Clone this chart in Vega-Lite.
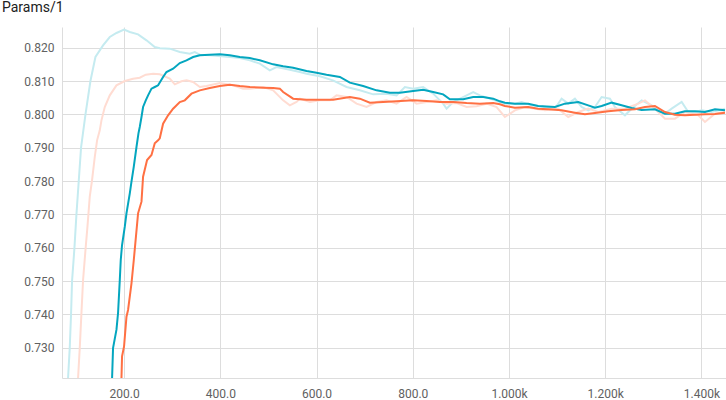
{
  "$schema": "https://vega.github.io/schema/vega-lite/v6.json",
  "autosize": {"type": "none"},
  "width": 664,
  "height": 351,
  "padding": {"left": 62, "top": 27, "right": 0, "bottom": 22},
  "background": "white",
  "title": {"text": "Params/1", "anchor": "start", "frame": "group", "dx": -60, "offset": 12, "fontSize": 14, "font": "Roboto", "fontWeight": "normal", "color": "#212121"},
  "config": {
    "view": {"stroke": null},
    "axis": {"labelFont": "Roboto", "labelFontSize": 12, "labelColor": "#616161", "gridColor": "#dddddd", "domainColor": "#dddddd", "ticks": false, "title": null}
  },
  "data": {"values": [
    {"run":"A raw","step":83.6,"value":0.7209},{"run":"A raw","step":87.1,"value":0.730},{"run":"A raw","step":89.8,"value":0.740},{"run":"A raw","step":91.9,"value":0.750},{"run":"A raw","step":96.9,"value":0.760},{"run":"A raw","step":101.0,"value":0.770},{"run":"A raw","step":105.8,"value":0.780},{"run":"A raw","step":110.6,"value":0.790},{"run":"A raw","step":119.8,"value":0.800},{"run":"A raw","step":130.1,"value":0.810},{"run":"A raw","step":140.5,"value":0.8172},{"run":"A raw","step":156.3,"value":0.8207},{"run":"A raw","step":170.3,"value":0.8232},{"run":"A raw","step":184.2,"value":0.8244},{"run":"A raw","step":200.0,"value":0.8254},{"run":"A raw","step":211.9,"value":0.8247},{"run":"A raw","step":229.1,"value":0.8240},{"run":"A raw","step":246.6,"value":0.8222},{"run":"A raw","step":263.8,"value":0.8202},{"run":"A raw","step":274.2,"value":0.8198},{"run":"A raw","step":295.0,"value":0.8197},{"run":"A raw","step":315.8,"value":0.8187},{"run":"A raw","step":336.6,"value":0.8182},{"run":"A raw","step":347.0,"value":0.8187},{"run":"A raw","step":357.4,"value":0.8179},{"run":"A raw","step":378.2,"value":0.8177},{"run":"A raw","step":419.8,"value":0.8172},{"run":"A raw","step":440.6,"value":0.8169},{"run":"A raw","step":461.3,"value":0.8162},{"run":"A raw","step":482.1,"value":0.8152},{"run":"A raw","step":502.9,"value":0.8132},{"run":"A raw","step":516.8,"value":0.8142},{"run":"A raw","step":544.5,"value":0.8134},{"run":"A raw","step":565.3,"value":0.8127},{"run":"A raw","step":579.2,"value":0.8122},{"run":"A raw","step":606.9,"value":0.8114},{"run":"A raw","step":634.0,"value":0.8102},{"run":"A raw","step":662.4,"value":0.8082},{"run":"A raw","step":690.0,"value":0.8072},{"run":"A raw","step":717.7,"value":0.8060},{"run":"A raw","step":745.5,"value":0.8062},{"run":"A raw","step":766.3,"value":0.8057},{"run":"A raw","step":783.6,"value":0.8082},{"run":"A raw","step":800.8,"value":0.8077},{"run":"A raw","step":821.6,"value":0.8082},{"run":"A raw","step":842.4,"value":0.8062},{"run":"A raw","step":863.2,"value":0.8032},{"run":"A raw","step":870.3,"value":0.8017},{"run":"A raw","step":884.0,"value":0.8037},{"run":"A raw","step":911.9,"value":0.8057},{"run":"A raw","step":925.6,"value":0.8067},{"run":"A raw","step":939.5,"value":0.8057},{"run":"A raw","step":960.3,"value":0.8047},{"run":"A raw","step":981.1,"value":0.8037},{"run":"A raw","step":991.5,"value":0.8032},{"run":"A raw","step":1012.3,"value":0.8032},{"run":"A raw","step":1026.2,"value":0.8037},{"run":"A raw","step":1047.0,"value":0.8027},{"run":"A raw","step":1074.6,"value":0.8022},{"run":"A raw","step":1095.4,"value":0.8017},{"run":"A raw","step":1109.3,"value":0.8047},{"run":"A raw","step":1123.1,"value":0.8032},{"run":"A raw","step":1137.0,"value":0.8047},{"run":"A raw","step":1150.9,"value":0.8022},{"run":"A raw","step":1164.7,"value":0.8012},{"run":"A raw","step":1178.6,"value":0.8022},{"run":"A raw","step":1192.5,"value":0.8052},{"run":"A raw","step":1209.8,"value":0.8047},{"run":"A raw","step":1220.2,"value":0.8022},{"run":"A raw","step":1241.0,"value":0.7997},{"run":"A raw","step":1254.9,"value":0.8017},{"run":"A raw","step":1275.7,"value":0.8042},{"run":"A raw","step":1296.5,"value":0.8027},{"run":"A raw","step":1310.2,"value":0.8012},{"run":"A raw","step":1324.2,"value":0.8002},{"run":"A raw","step":1338.1,"value":0.8017},{"run":"A raw","step":1358.9,"value":0.8037},{"run":"A raw","step":1372.6,"value":0.8007},{"run":"A raw","step":1386.5,"value":0.8007},{"run":"A raw","step":1400.4,"value":0.8012},{"run":"A raw","step":1421.2,"value":0.8007},{"run":"A raw","step":1448.9,"value":0.8017},
    {"run":"B raw","step":104.4,"value":0.7209},{"run":"B raw","step":107.9,"value":0.7299},{"run":"B raw","step":111.4,"value":0.7404},{"run":"B raw","step":114.8,"value":0.7503},{"run":"B raw","step":119.8,"value":0.7593},{"run":"B raw","step":123.9,"value":0.7663},{"run":"B raw","step":128.7,"value":0.7753},{"run":"B raw","step":133.5,"value":0.7803},{"run":"B raw","step":139.1,"value":0.7872},{"run":"B raw","step":143.9,"value":0.7922},{"run":"B raw","step":149.5,"value":0.7952},{"run":"B raw","step":153.0,"value":0.7982},{"run":"B raw","step":159.9,"value":0.8022},{"run":"B raw","step":170.3,"value":0.8057},{"run":"B raw","step":184.2,"value":0.8087},{"run":"B raw","step":201.5,"value":0.8100},{"run":"B raw","step":218.7,"value":0.8107},{"run":"B raw","step":232.6,"value":0.8110},{"run":"B raw","step":245.1,"value":0.8119},{"run":"B raw","step":260.3,"value":0.8122},{"run":"B raw","step":274.2,"value":0.8120},{"run":"B raw","step":295.0,"value":0.8107},{"run":"B raw","step":305.4,"value":0.8090},{"run":"B raw","step":319.3,"value":0.8099},{"run":"B raw","step":329.7,"value":0.8102},{"run":"B raw","step":343.5,"value":0.8097},{"run":"B raw","step":357.4,"value":0.8082},{"run":"B raw","step":371.3,"value":0.8085},{"run":"B raw","step":399.0,"value":0.8094},{"run":"B raw","step":426.6,"value":0.8087},{"run":"B raw","step":447.4,"value":0.8077},{"run":"B raw","step":461.3,"value":0.8077},{"run":"B raw","step":489.0,"value":0.8082},{"run":"B raw","step":509.8,"value":0.8072},{"run":"B raw","step":530.6,"value":0.8042},{"run":"B raw","step":544.5,"value":0.8027},{"run":"B raw","step":558.4,"value":0.8037},{"run":"B raw","step":565.3,"value":0.8047},{"run":"B raw","step":586.1,"value":0.8037},{"run":"B raw","step":606.9,"value":0.8042},{"run":"B raw","step":627.7,"value":0.8042},{"run":"B raw","step":641.6,"value":0.8057},{"run":"B raw","step":662.4,"value":0.8052},{"run":"B raw","step":683.2,"value":0.8032},{"run":"B raw","step":704.0,"value":0.8022},{"run":"B raw","step":724.7,"value":0.8037},{"run":"B raw","step":745.5,"value":0.8042},{"run":"B raw","step":766.3,"value":0.8032},{"run":"B raw","step":787.1,"value":0.8052},{"run":"B raw","step":807.9,"value":0.8032},{"run":"B raw","step":828.7,"value":0.8037},{"run":"B raw","step":849.5,"value":0.8042},{"run":"B raw","step":870.3,"value":0.8032},{"run":"B raw","step":891.1,"value":0.8034},{"run":"B raw","step":911.9,"value":0.8022},{"run":"B raw","step":932.7,"value":0.8024},{"run":"B raw","step":953.4,"value":0.8032},{"run":"B raw","step":974.2,"value":0.8022},{"run":"B raw","step":991.5,"value":0.7992},{"run":"B raw","step":1012.3,"value":0.8012},{"run":"B raw","step":1033.1,"value":0.8022},{"run":"B raw","step":1053.9,"value":0.8017},{"run":"B raw","step":1074.6,"value":0.8012},{"run":"B raw","step":1102.3,"value":0.8017},{"run":"B raw","step":1123.1,"value":0.7992},{"run":"B raw","step":1143.9,"value":0.8007},{"run":"B raw","step":1164.7,"value":0.8017},{"run":"B raw","step":1185.5,"value":0.8007},{"run":"B raw","step":1213.3,"value":0.8017},{"run":"B raw","step":1241.0,"value":0.8017},{"run":"B raw","step":1268.7,"value":0.8032},{"run":"B raw","step":1282.6,"value":0.8042},{"run":"B raw","step":1303.3,"value":0.8017},{"run":"B raw","step":1324.2,"value":0.7987},{"run":"B raw","step":1344.9,"value":0.7987},{"run":"B raw","step":1365.7,"value":0.8007},{"run":"B raw","step":1393.4,"value":0.7997},{"run":"B raw","step":1407.3,"value":0.7977},{"run":"B raw","step":1428.1,"value":0.8002},{"run":"B raw","step":1448.9,"value":0.8007},
    {"run":"C","step":175.1,"value":0.7209},{"run":"C","step":177.1,"value":0.7299},{"run":"C","step":184.2,"value":0.7354},{"run":"C","step":187.5,"value":0.7404},{"run":"C","step":191.1,"value":0.7503},{"run":"C","step":193.1,"value":0.7563},{"run":"C","step":195.8,"value":0.7608},{"run":"C","step":201.5,"value":0.7663},{"run":"C","step":205.0,"value":0.7703},{"run":"C","step":211.9,"value":0.7763},{"run":"C","step":215.4,"value":0.7798},{"run":"C","step":220.2,"value":0.7843},{"run":"C","step":225.8,"value":0.7902},{"run":"C","step":229.9,"value":0.7943},{"run":"C","step":232.6,"value":0.7962},{"run":"C","step":236.2,"value":0.7992},{"run":"C","step":239.5,"value":0.8022},{"run":"C","step":245.1,"value":0.8042},{"run":"C","step":249.9,"value":0.8057},{"run":"C","step":257.0,"value":0.8077},{"run":"C","step":263.8,"value":0.8082},{"run":"C","step":270.7,"value":0.8087},{"run":"C","step":281.1,"value":0.8112},{"run":"C","step":288.1,"value":0.8127},{"run":"C","step":301.9,"value":0.8137},{"run":"C","step":315.8,"value":0.8154},{"run":"C","step":329.7,"value":0.8162},{"run":"C","step":343.5,"value":0.8172},{"run":"C","step":357.4,"value":0.8177},{"run":"C","step":378.2,"value":0.8179},{"run":"C","step":399.0,"value":0.8180},{"run":"C","step":419.8,"value":0.8177},{"run":"C","step":440.6,"value":0.8172},{"run":"C","step":461.3,"value":0.8169},{"run":"C","step":482.1,"value":0.8162},{"run":"C","step":509.8,"value":0.8150},{"run":"C","step":530.6,"value":0.8144},{"run":"C","step":551.4,"value":0.8140},{"run":"C","step":579.2,"value":0.8130},{"run":"C","step":600.0,"value":0.8125},{"run":"C","step":620.8,"value":0.8119},{"run":"C","step":648.5,"value":0.8112},{"run":"C","step":669.2,"value":0.8095},{"run":"C","step":696.9,"value":0.8085},{"run":"C","step":724.7,"value":0.8072},{"run":"C","step":752.4,"value":0.8065},{"run":"C","step":773.2,"value":0.8065},{"run":"C","step":800.8,"value":0.8070},{"run":"C","step":821.6,"value":0.8074},{"run":"C","step":842.4,"value":0.8067},{"run":"C","step":863.2,"value":0.8060},{"run":"C","step":877.1,"value":0.8045},{"run":"C","step":904.8,"value":0.8045},{"run":"C","step":925.6,"value":0.8052},{"run":"C","step":946.4,"value":0.8052},{"run":"C","step":967.2,"value":0.8047},{"run":"C","step":981.1,"value":0.8039},{"run":"C","step":991.5,"value":0.8035},{"run":"C","step":1012.3,"value":0.8032},{"run":"C","step":1039.9,"value":0.8032},{"run":"C","step":1060.7,"value":0.8025},{"run":"C","step":1095.4,"value":0.8022},{"run":"C","step":1116.2,"value":0.8032},{"run":"C","step":1143.9,"value":0.8037},{"run":"C","step":1164.7,"value":0.8027},{"run":"C","step":1178.6,"value":0.8020},{"run":"C","step":1192.5,"value":0.8025},{"run":"C","step":1213.3,"value":0.8035},{"run":"C","step":1234.1,"value":0.8027},{"run":"C","step":1254.9,"value":0.8019},{"run":"C","step":1275.7,"value":0.8013},{"run":"C","step":1303.3,"value":0.8015},{"run":"C","step":1324.2,"value":0.8002},{"run":"C","step":1344.9,"value":0.8002},{"run":"C","step":1365.7,"value":0.8009},{"run":"C","step":1386.5,"value":0.8009},{"run":"C","step":1407.3,"value":0.8007},{"run":"C","step":1428.1,"value":0.8015},{"run":"C","step":1448.9,"value":0.8012},
    {"run":"D","step":194.6,"value":0.7209},{"run":"D","step":195.8,"value":0.7274},{"run":"D","step":200.0,"value":0.7304},{"run":"D","step":205.0,"value":0.7393},{"run":"D","step":208.3,"value":0.7413},{"run":"D","step":215.4,"value":0.7493},{"run":"D","step":220.2,"value":0.7563},{"run":"D","step":229.1,"value":0.7703},{"run":"D","step":236.2,"value":0.7738},{"run":"D","step":239.5,"value":0.7813},{"run":"D","step":247.8,"value":0.7863},{"run":"D","step":257.0,"value":0.7878},{"run":"D","step":263.8,"value":0.7913},{"run":"D","step":270.7,"value":0.7922},{"run":"D","step":274.2,"value":0.7928},{"run":"D","step":281.1,"value":0.7972},{"run":"D","step":291.5,"value":0.7997},{"run":"D","step":301.9,"value":0.8017},{"run":"D","step":315.8,"value":0.8037},{"run":"D","step":326.2,"value":0.8042},{"run":"D","step":340.1,"value":0.8062},{"run":"D","step":357.4,"value":0.8072},{"run":"D","step":378.2,"value":0.8079},{"run":"D","step":399.0,"value":0.8085},{"run":"D","step":419.8,"value":0.8089},{"run":"D","step":440.6,"value":0.8085},{"run":"D","step":461.3,"value":0.8082},{"run":"D","step":489.0,"value":0.8080},{"run":"D","step":509.8,"value":0.8079},{"run":"D","step":523.7,"value":0.8077},{"run":"D","step":530.6,"value":0.8067},{"run":"D","step":551.4,"value":0.8047},{"run":"D","step":579.2,"value":0.8044},{"run":"D","step":606.9,"value":0.8044},{"run":"D","step":634.5,"value":0.8044},{"run":"D","step":669.2,"value":0.8052},{"run":"D","step":690.0,"value":0.8047},{"run":"D","step":710.8,"value":0.8035},{"run":"D","step":738.5,"value":0.8037},{"run":"D","step":766.3,"value":0.8039},{"run":"D","step":800.8,"value":0.8042},{"run":"D","step":828.7,"value":0.8040},{"run":"D","step":856.3,"value":0.8037},{"run":"D","step":884.0,"value":0.8037},{"run":"D","step":911.9,"value":0.8034},{"run":"D","step":939.5,"value":0.8032},{"run":"D","step":967.2,"value":0.8034},{"run":"D","step":981.1,"value":0.8030},{"run":"D","step":991.5,"value":0.8025},{"run":"D","step":1012.3,"value":0.8020},{"run":"D","step":1039.9,"value":0.8022},{"run":"D","step":1060.7,"value":0.8017},{"run":"D","step":1081.5,"value":0.8015},{"run":"D","step":1109.3,"value":0.8012},{"run":"D","step":1137.0,"value":0.8005},{"run":"D","step":1157.8,"value":0.8000},{"run":"D","step":1178.6,"value":0.8004},{"run":"D","step":1206.3,"value":0.8009},{"run":"D","step":1234.1,"value":0.8013},{"run":"D","step":1261.7,"value":0.8015},{"run":"D","step":1282.6,"value":0.8022},{"run":"D","step":1303.3,"value":0.8025},{"run":"D","step":1324.2,"value":0.8007},{"run":"D","step":1344.9,"value":0.7999},{"run":"D","step":1365.7,"value":0.7997},{"run":"D","step":1386.5,"value":0.7999},{"run":"D","step":1407.3,"value":0.8000},{"run":"D","step":1428.1,"value":0.8001},{"run":"D","step":1448.9,"value":0.8005}
  ]},
  "mark": {"type": "line", "strokeWidth": 2, "clip": true, "interpolate": "linear"},
  "encoding": {
    "x": {"field": "step", "type": "quantitative", "scale": {"domain": [71, 1451], "nice": false, "zero": false},
      "axis": {"values": [200, 400, 600, 800, 1000, 1200, 1400], "labelExpr": "datum.value >= 1000 ? format(datum.value / 1000, '.3f') + 'k' : format(datum.value, '.1f')", "labelPadding": 10, "grid": true}},
    "y": {"field": "value", "type": "quantitative", "scale": {"domain": [0.7209, 0.8262], "nice": false, "zero": false},
      "axis": {"values": [0.73, 0.74, 0.75, 0.76, 0.77, 0.78, 0.79, 0.8, 0.81, 0.82], "format": ".3f", "labelPadding": 8, "grid": true}},
    "color": {"field": "run", "type": "nominal", "legend": null, "scale": {"domain": ["A raw", "B raw", "C", "D"], "range": ["#c5ebf0", "#ffdcd2", "#04a6bf", "#ff7043"]}},
    "detail": {"field": "run"}
  }
}
